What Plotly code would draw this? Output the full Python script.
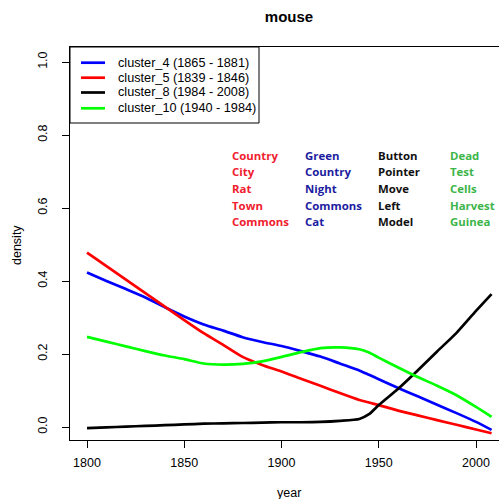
import plotly.graph_objects as go

years = [1800, 1810, 1820, 1830, 1840, 1850, 1860, 1870, 1880, 1890, 1900,
         1910, 1920, 1930, 1940, 1945, 1950, 1960, 1970, 1980, 1990, 2000, 2008]

cluster_4 = [0.423, 0.400, 0.378, 0.355, 0.328, 0.303, 0.281, 0.264, 0.246, 0.233, 0.222,
             0.208, 0.193, 0.174, 0.155, 0.143, 0.131, 0.107, 0.084, 0.061, 0.038, 0.014, -0.008]
cluster_5 = [0.478, 0.441, 0.404, 0.367, 0.330, 0.293, 0.257, 0.225, 0.192, 0.170, 0.152,
             0.132, 0.113, 0.093, 0.074, 0.067, 0.060, 0.045, 0.032, 0.019, 0.006, -0.007, -0.017]
cluster_8 = [-0.003, -0.001, 0.001, 0.003, 0.005, 0.007, 0.009, 0.010, 0.011, 0.012, 0.013,
             0.013, 0.014, 0.017, 0.022, 0.035, 0.060, 0.105, 0.155, 0.207, 0.258, 0.318, 0.364]
cluster_10 = [0.247, 0.234, 0.221, 0.208, 0.196, 0.186, 0.174, 0.171, 0.173, 0.180, 0.192,
              0.205, 0.216, 0.218, 0.213, 0.204, 0.190, 0.163, 0.137, 0.113, 0.087, 0.055, 0.028]

series_names = ["cluster_4 (1865 - 1881)", "cluster_5 (1839 - 1846)",
                "cluster_8 (1984 - 2008)", "cluster_10 (1940 - 1984)"]
series_values = [cluster_4, cluster_5, cluster_8, cluster_10]
series_colors = ["#0000FF", "#FF0000", "#000000", "#00FF00"]

word_columns = [
    ["Country", "City", "Rat", "Town", "Commons"],
    ["Green", "Country", "Night", "Commons", "Cat"],
    ["Button", "Pointer", "Move", "Left", "Model"],
    ["Dead", "Test", "Cells", "Harvest", "Guinea"],
]
word_colors = ["#F0202E", "#1C1CA0", "#111111", "#3DB54A"]

x_ticks = [1800, 1850, 1900, 1950, 2000]
y_ticks = [0.0, 0.2, 0.4, 0.6, 0.8, 1.0]

W, H = 499, 499
L, R, T, B = 70, 0, 47, 59
pw, ph = W - L - R, H - T - B

def px_x(p):
    return (p - L) / pw

def px_y(p):
    return (H - B - p) / ph

FONT = "Liberation Sans, Arial"

fig = go.Figure()
for name, vals, col in zip(series_names, series_values, series_colors):
    fig.add_trace(go.Scatter(x=years, y=vals, mode="lines", name=name,
                             line=dict(color=col, width=2.7, shape="spline", smoothing=0.6),
                             showlegend=False))

shapes = []
annotations = []
# legend box
shapes.append(dict(type="rect", xref="paper", yref="paper", x0=0, x1=px_x(259),
                   y0=px_y(123), y1=1, line=dict(color="black", width=1), fillcolor="white",
                   layer="above"))
row_y = [62.7, 77.7, 92.5, 108.3]
for name, col, ry in zip(series_names, series_colors, row_y):
    shapes.append(dict(type="line", xref="paper", yref="paper", x0=px_x(81), x1=px_x(105),
                       y0=px_y(ry), y1=px_y(ry), line=dict(color=col, width=2.7), layer="above"))
    annotations.append(dict(text=name, xref="paper", yref="paper", x=px_x(115.5), y=px_y(ry),
                            xanchor="left", yanchor="middle", showarrow=False,
                            font=dict(family=FONT, size=12.7, color="black")))

col_x = [229.5, 302.5, 375.5, 448]
word_row_y = [155, 171.7, 188.3, 205, 221.7]
for words, cx, wc in zip(word_columns, col_x, word_colors):
    for w, wy in zip(words, word_row_y):
        annotations.append(dict(text="<b>%s</b>" % w, xref="paper", yref="paper",
                                x=px_x(cx), y=px_y(wy), xanchor="left", yanchor="middle",
                                showarrow=False,
                                font=dict(family="Open Sans", size=11.4, color=wc)))

annotations.append(dict(text="year", xref="paper", yref="paper", x=px_x(289), y=px_y(493),
                        xanchor="center", yanchor="middle", showarrow=False,
                        font=dict(family=FONT, size=12.5, color="black")))
annotations.append(dict(text="density", xref="paper", yref="paper", x=px_x(17), y=px_y(245),
                        xanchor="center", yanchor="middle", showarrow=False, textangle=-90,
                        font=dict(family=FONT, size=12.5, color="black")))

x0_val = 1800 - 17 / 1.945
x1_val = 1800 + 412 / 1.945
y0_val = (427 - 440) / 365
y1_val = (427 - 47) / 365

fig.update_layout(
    width=W, height=H,
    margin=dict(l=L, r=R, t=T, b=B),
    plot_bgcolor="white", paper_bgcolor="white",
    title=dict(text="<b>mouse</b>", x=px_x(289), xref="paper", xanchor="center",
               y=1 - 17 / H, yanchor="middle",
               font=dict(family=FONT, size=15, color="black")),
    xaxis=dict(range=[x0_val, x1_val], tickvals=x_ticks, ticks="outside", ticklen=7,
               tickcolor="black", showline=True, linecolor="black", linewidth=1, mirror=True,
               showgrid=False, zeroline=False, ticklabelstandoff=4,
               tickfont=dict(family=FONT, size=12.5, color="black")),
    yaxis=dict(range=[y0_val, y1_val], tickvals=y_ticks, tickformat=".1f", ticks="outside",
               ticklen=7, tickcolor="black", showline=True, linecolor="black", linewidth=1,
               showgrid=False, zeroline=False, tickangle=-90, ticklabelstandoff=10,
               tickfont=dict(family=FONT, size=12.5, color="black")),
    shapes=shapes,
    annotations=annotations,
)

fig.write_html("out.html", config={"displayModeBar": False},
               post_script="document.body.style.margin='0';document.body.style.overflow='hidden';")
